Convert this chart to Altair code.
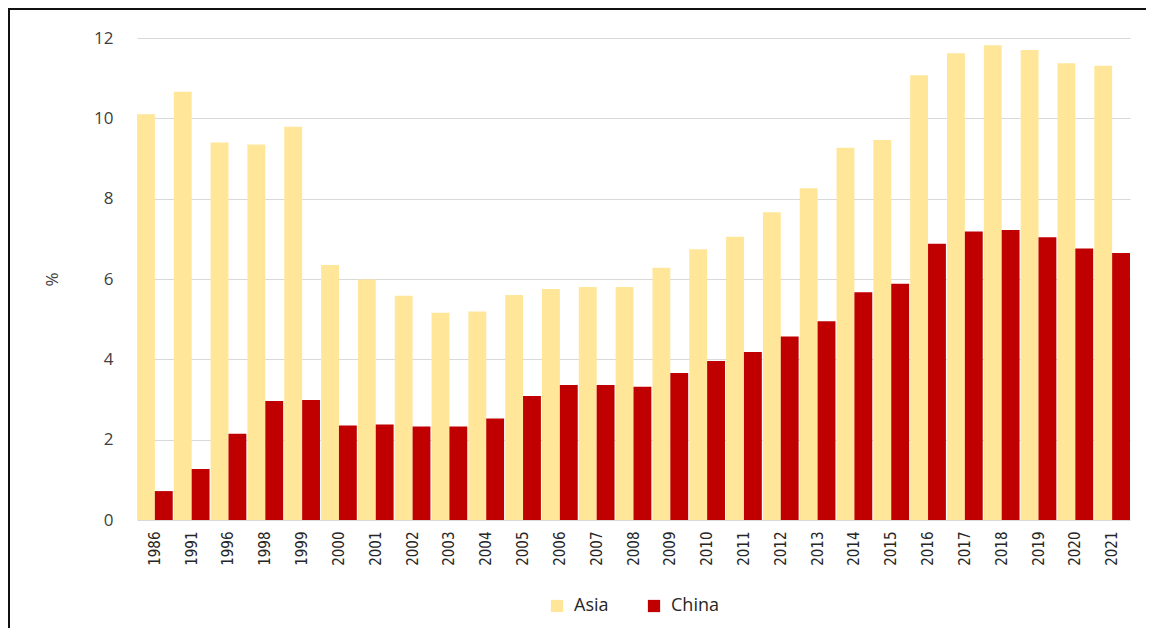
import altair as alt
import pandas as pd

years = ["1986", "1991", "1996", "1998", "1999", "2000", "2001", "2002", "2003",
         "2004", "2005", "2006", "2007", "2008", "2009", "2010", "2011", "2012",
         "2013", "2014", "2015", "2016", "2017", "2018", "2019", "2020", "2021"]
asia = [10.1, 10.66, 9.4, 9.35, 9.79, 6.35, 5.99, 5.58, 5.16, 5.19, 5.6, 5.75,
        5.8, 5.8, 6.28, 6.74, 7.05, 7.66, 8.26, 9.27, 9.46, 11.07, 11.62, 11.82,
        11.7, 11.37, 11.31]
china = [0.72, 1.27, 2.15, 2.96, 2.99, 2.35, 2.38, 2.33, 2.33, 2.53, 3.09, 3.36,
         3.36, 3.32, 3.66, 3.96, 4.18, 4.57, 4.95, 5.67, 5.88, 6.88, 7.18, 7.22,
         7.04, 6.76, 6.65]
series = ["Asia", "China"]
colors = ["#FFE699", "#C00000"]

rows = []
for i, y in enumerate(years):
    rows.append({"year": y, "series": "Asia", "value": asia[i]})
    rows.append({"year": y, "series": "China", "value": china[i]})
df = pd.DataFrame(rows)

bars = alt.Chart(df).mark_bar().encode(
    x=alt.X("year:N", sort=years, title=None,
            scale=alt.Scale(paddingInner=0.03, paddingOuter=0.0),
            axis=alt.Axis(labelAngle=270,
                          labelFont="Arial Narrow, DejaVu Sans Condensed, Liberation Sans",
                          labelFontSize=15, labelColor="#262626", ticks=False,
                          domain=False, grid=False, labelPadding=11)),
    xOffset=alt.XOffset("series:N", sort=series),
    y=alt.Y("value:Q", title="%",
            scale=alt.Scale(domain=[0, 12], nice=False),
            axis=alt.Axis(values=[0, 2, 4, 6, 8, 10, 12], ticks=False, domain=False,
                          gridColor="#d9d9d9", gridWidth=1,
                          labelFont="Open Sans", labelFontSize=17,
                          labelColor="#404040", labelPadding=24,
                          titleFont="Open Sans", titleFontSize=17,
                          titleColor="#404040", titleFontWeight="normal",
                          titlePadding=32)),
    color=alt.Color("series:N", sort=series,
                    scale=alt.Scale(domain=series, range=colors),
                    legend=alt.Legend(title=None, orient="none", direction="horizontal",
                                      legendX=411, legendY=559,
                                      symbolType="square", symbolSize=150,
                                      symbolStrokeWidth=0,
                                      labelFont="Open Sans", labelFontSize=18,
                                      labelColor="#262626", columnPadding=36,
                                      labelOffset=8)),
)

frame = pd.DataFrame({"k": [0]})
left_line = alt.Chart(frame).mark_rule(color="#111111", strokeWidth=2).encode(
    x=alt.value(-128), y=alt.value(-30), y2=alt.value(600))
top_line = alt.Chart(frame).mark_rule(color="#111111", strokeWidth=2).encode(
    x=alt.value(-129), x2=alt.value(1010), y=alt.value(-29))

chart = alt.layer(bars, left_line, top_line).properties(
    width=993, height=482,
    background="white",
    autosize=alt.AutoSizeParams(type="none"),
    padding={"left": 129, "top": 30, "right": 16, "bottom": 108},
).configure_view(strokeWidth=0, strokeOpacity=0)

chart.save("out.html", embed_options={"renderer": "svg", "actions": False})
